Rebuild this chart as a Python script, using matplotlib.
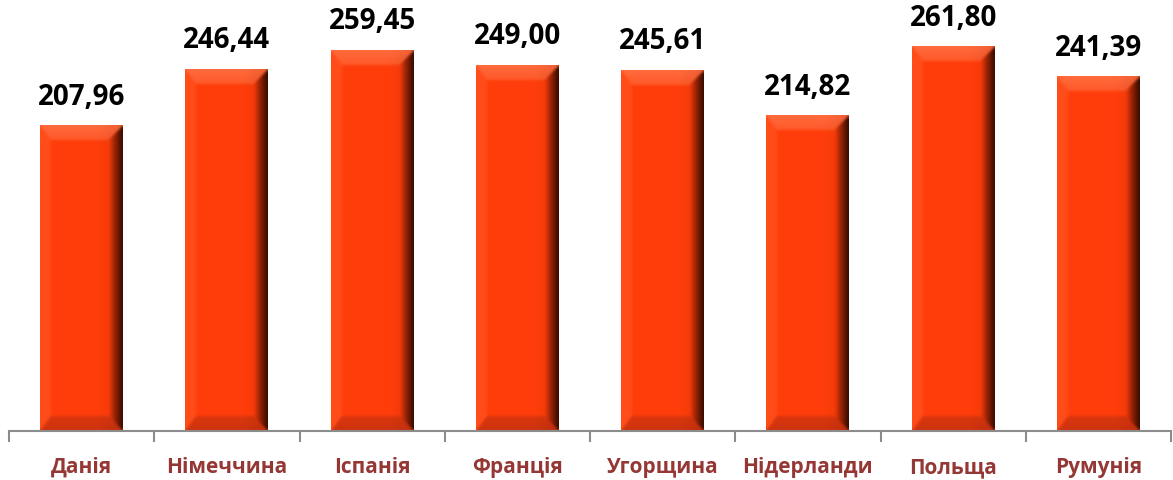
import matplotlib.pyplot as plt
import numpy as np

# --- data ---
countries = ['Данія', 'Німеччина', 'Іспанія', 'Франція', 'Угорщина', 'Нідерланди', 'Польща', 'Румунія']
values = [207.96, 246.44, 259.45, 249.00, 245.61, 214.82, 261.80, 241.39]

FACE = np.array([1.0, 0.24, 0.04])
TOP = np.array([1.0, 0.42, 0.24])
LEFT = np.array([1.0, 0.30, 0.10])
BOTTOM = np.array([0.80, 0.20, 0.06])
DARK = np.array([0.20, 0.04, 0.0])
LABEL_RED = '#953735'

plt.rcParams['font.family'] = ['Open Sans', 'DejaVu Sans']

fig = plt.figure(figsize=(11.73, 4.81), dpi=100)
ax = fig.add_axes([9 / 1173, 49 / 481, 1162 / 1173, 432 / 481])

x = np.arange(len(countries))
bars = ax.bar(x, values, width=0.57, color=FACE, zorder=1)
ax.set_xlim(-0.5, len(countries) - 0.5)
ax.set_ylim(0, 294.5)


def smooth(img, n=2):
    # cheap box blur so the bevel edges are soft
    for _ in range(n):
        p = np.pad(img, ((1, 1), (1, 1), (0, 0)), mode='edge')
        img = sum(p[i:i + img.shape[0], j:j + img.shape[1]]
                  for i in range(3) for j in range(3)) / 9.0
    return img


def bevel_image(w, h, bs=11, bt=15):
    """pixel image of a bevelled bar, w x h pixels"""
    xs = np.arange(w) + 0.5
    ys = np.arange(h) + 0.5
    X, Y = np.meshgrid(xs, ys)
    nl = X / bs
    nr = (w - X) / (bs + 3)
    nt = Y / bt
    nb = (h - Y) / bt
    stack = np.stack([nl, nr, nt, nb])
    region = np.argmin(stack, axis=0)
    mn = np.min(stack, axis=0)
    img = np.tile(FACE, (h, w, 1)).astype(float)
    bev = mn < 1
    m = bev & (region == 0)
    img[m] = LEFT
    m = bev & (region == 1)
    t = (1 - nr[m])[:, None] ** 0.9
    img[m] = FACE * (1 - t) + DARK * t
    m = bev & (region == 2)
    t = nt[m][:, None]
    img[m] = TOP * (1 - 0.4 * t) + FACE * 0.4 * t
    m = bev & (region == 3)
    t = nb[m][:, None]
    img[m] = BOTTOM * (1 - 0.3 * t) + FACE * 0.3 * t
    fade = np.clip((X - w * 0.7) / (w * 0.3), 0, 1)[..., None] * 0.10
    img = img * (1 - fade) + DARK * fade
    return np.clip(smooth(img), 0, 1)


for bar in bars:
    x0, y0 = bar.get_x(), bar.get_y()
    x1, y1 = x0 + bar.get_width(), y0 + bar.get_height()
    p0 = ax.transData.transform((x0, y0))
    p1 = ax.transData.transform((x1, y1))
    w = int(round(p1[0] - p0[0]))
    h = int(round(p1[1] - p0[1]))
    ax.imshow(bevel_image(w, h), extent=(x0, x1, y0, y1), aspect='auto',
              interpolation='bilinear', zorder=2)

for xi, v in zip(x, values):
    ax.annotate(f"{v:.2f}".replace('.', ','), (xi, v), xytext=(0, 11),
                textcoords='offset points', ha='center', va='bottom',
                fontsize=20, fontweight='bold', color='black')

ax.set_xlim(-0.5, len(countries) - 0.5)
ax.set_ylim(0, 294.5)

for s in ['top', 'right', 'left']:
    ax.spines[s].set_visible(False)
ax.spines['bottom'].set_color('#8c8c8c')
ax.spines['bottom'].set_linewidth(1.5)
ax.set_yticks([])
ax.set_xticks(np.arange(-0.5, len(countries)))
ax.set_xticklabels([])
ax.tick_params(axis='x', which='major', length=8, width=1.5, color='#8c8c8c', direction='out')
ax.set_xticks(x, minor=True)
ax.set_xticklabels(countries, minor=True)
ax.tick_params(axis='x', which='minor', length=0, pad=18, labelsize=15, labelcolor=LABEL_RED)
for lab in ax.get_xticklabels(minor=True):
    lab.set_fontweight('bold')

plt.savefig('out.png', dpi=100)
